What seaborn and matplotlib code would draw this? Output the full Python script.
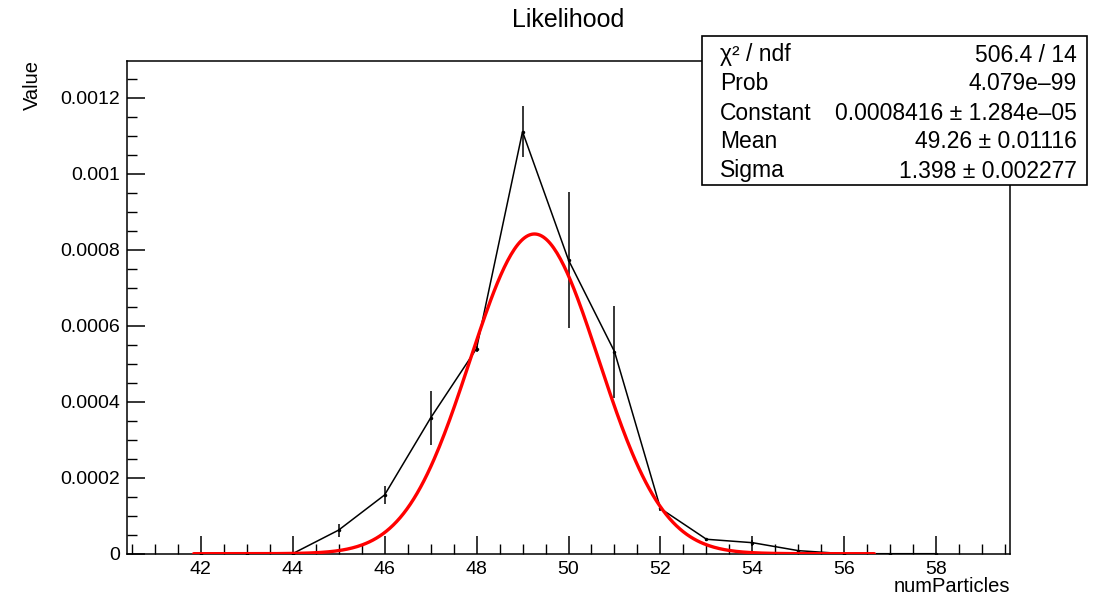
import numpy as np
import pandas as pd
import matplotlib
matplotlib.use("Agg")
import matplotlib.pyplot as plt
from matplotlib.patches import Rectangle
from matplotlib.ticker import MultipleLocator
import seaborn as sns

# ---- data ----
num_particles = [42, 43, 44, 45, 46, 47, 48, 49, 50, 51, 52, 53, 54, 55, 56, 57, 58]
values = [0.0, 0.0, 0.0, 6.2e-5, 1.545e-4, 3.57e-4, 5.4e-4, 1.111e-3, 7.73e-4,
          5.32e-4, 1.19e-4, 3.8e-5, 2.9e-5, 8e-6, 0.0, 0.0, 0.0]
errors = [0.0, 0.0, 0.0, 1.7e-5, 2.4e-5, 7.0e-5, 8e-6, 6.8e-5, 1.78e-4,
          1.21e-4, 6e-6, 4e-6, 8e-6, 2e-6, 0.0, 0.0, 0.0]

# Gaussian fit parameters (from the stats box)
fit_constant = 0.0008416
fit_mean = 49.26
fit_sigma = 1.398
fit_range = [41.85, 56.65]

y_ticks = [0, 0.0002, 0.0004, 0.0006, 0.0008, 0.001, 0.0012]
y_tick_labels = ["0", "0.0002", "0.0004", "0.0006", "0.0008", "0.001", "0.0012"]
x_ticks = [42, 44, 46, 48, 50, 52, 54, 56, 58]

stats_labels = ["χ² / ndf", "Prob", "Constant", "Mean", "Sigma"]
stats_values = ["506.4 / 14", "4.079e–99", "0.0008416 ± 1.284e–05",
                "49.26 ± 0.01116", "1.398 ± 0.002277"]

# ---- style ----
sns.set_style("white")
plt.rcParams["font.family"] = ["Liberation Sans", "DejaVu Sans"]
plt.rcParams["text.color"] = "black"

W, H = 1110, 599
fig = plt.figure(figsize=(W / 100, H / 100), dpi=100)
ax = fig.add_axes([127 / W, 1 - 553.7 / H, (1010 - 127) / W, (553.7 - 61) / H])

df = pd.DataFrame({"numParticles": num_particles, "Value": values, "err": errors})

xf = np.linspace(fit_range[0], fit_range[1], 400)
fit_df = pd.DataFrame({"x": xf,
                       "y": fit_constant * np.exp(-0.5 * ((xf - fit_mean) / fit_sigma) ** 2)})

ax.errorbar(df["numParticles"], df["Value"], yerr=df["err"], fmt="none",
            ecolor="black", elinewidth=1.1, capsize=0, zorder=3)
sns.lineplot(data=df, x="numParticles", y="Value", ax=ax, color="black",
             linewidth=1.1, marker="o", markersize=2.5, markeredgewidth=0, zorder=4)
sns.lineplot(data=fit_df, x="x", y="y", ax=ax, color="#ff0000", linewidth=2.4, zorder=5)

ax.set_xlim(40.4, 59.6)
ax.set_ylim(0, 0.001297)

ax.set_yticks(y_ticks)
ax.set_yticklabels(y_tick_labels)
ax.set_xticks(x_ticks)
ax.set_xticklabels([str(v) for v in x_ticks])
ax.xaxis.set_minor_locator(MultipleLocator(0.5))
ax.yaxis.set_minor_locator(MultipleLocator(0.00005))

ax.tick_params(axis="both", which="both", bottom=True, left=True, top=False, right=False)
ax.tick_params(axis="both", which="major", direction="in", length=13, width=1.1,
               labelsize=14, color="black", labelcolor="black", pad=5)
ax.tick_params(axis="both", which="minor", direction="in", length=7, width=1.0,
               color="black")

for s in ax.spines.values():
    s.set_color("black")
    s.set_linewidth(1.1)

ax.set_xlabel("")
ax.set_ylabel("")
fig.text(1010 / W, 1 - 587 / H, "numParticles", ha="right", va="center", fontsize=14.5)
fig.text(32 / W, 1 - 60 / H, "Value", ha="center", va="top", rotation=90, fontsize=14.5)
fig.text(568 / W, 1 - 20 / H, "Likelihood", ha="center", va="center", fontsize=18)

# stats box
bx0, by0, bx1, by1 = 702, 36, 1087, 185
box = Rectangle((bx0 / W, 1 - by1 / H), (bx1 - bx0) / W, (by1 - by0) / H,
                transform=fig.transFigure, facecolor="white", edgecolor="black",
                linewidth=1.2, zorder=10)
fig.patches.append(box)
row_y = [55, 84, 113, 142, 171]
for lab, val, yy in zip(stats_labels, stats_values, row_y):
    fig.text(720 / W, 1 - yy / H, lab, ha="left", va="center", fontsize=16.5, zorder=11)
    fig.text(1077 / W, 1 - yy / H, val, ha="right", va="center", fontsize=16.5, zorder=11)

fig.savefig("out.png", dpi=100)
